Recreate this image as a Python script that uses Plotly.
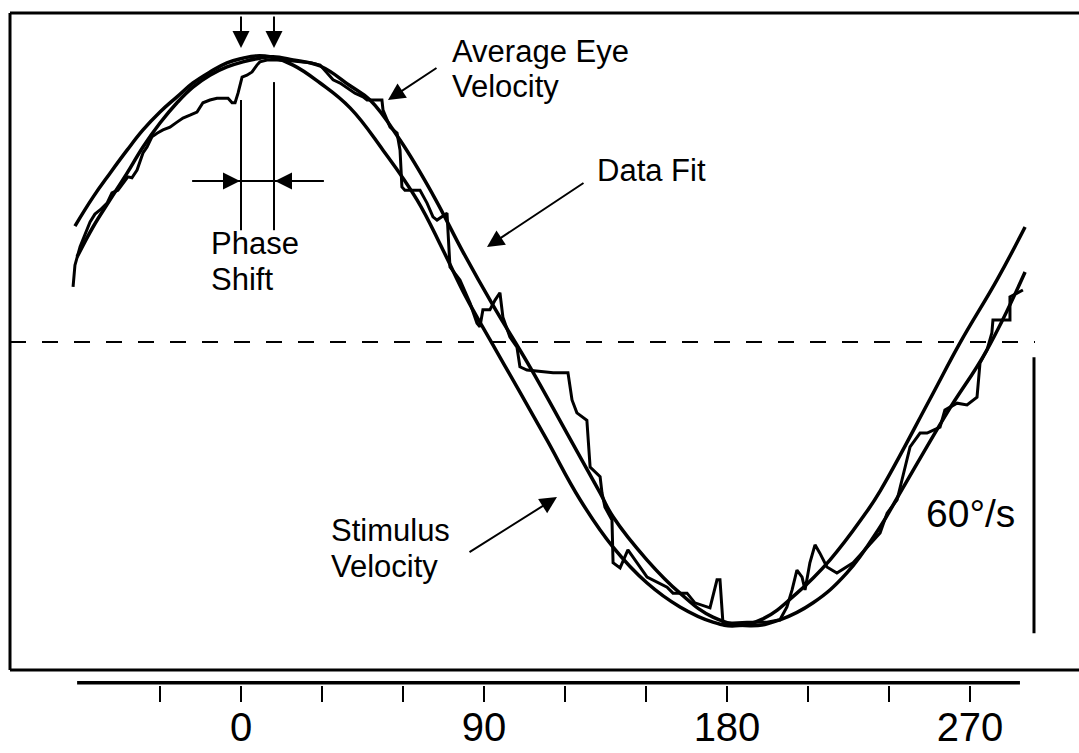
import plotly.graph_objects as go

# ---- data (phase in degrees, velocity in deg/s) ----
STIM_PHASE = [-61.5, -54.8, -48.5, -42.2, -36.3, -30.0, -23.7, -17.8, -11.5, -5.2, 0.7, 5.6, 10.7,
              19.3, 29.3, 40.4, 52.6, 65.2, 74.8, 83.3, 92.2, 103.3, 113.3, 125.6, 137.8, 150.4,
              162.6, 174.8, 183.0, 193.3, 205.9, 218.1, 230.4, 236.7, 255.2, 266.3, 280.0, 290.4]
STIM_VEL = [25.2, 31.5, 36.7, 41.7, 46.1, 50.0, 53.3, 56.3, 58.7, 60.7, 61.7, 62.2, 62.0,
            60.2, 56.3, 50.9, 41.7, 30.9, 20.0, 9.8, 0.5, -10.9, -21.3, -34.3, -44.6, -52.4,
            -57.6, -60.9, -61.7, -60.2, -54.6, -47.4, -38.0, -32.4, -12.4, -0.2, 13.5, 25.0]

FIT_PHASE = [-60.7, -54.8, -48.5, -42.2, -36.3, -30.0, -23.7, -17.8, -11.5, -5.2, 0.7, 7.0, 11.9,
             19.3, 29.3, 40.4, 47.8, 58.9, 71.1, 82.2, 93.3, 107.0, 120.7, 133.0, 137.8, 150.4,
             162.6, 174.8, 188.5, 199.6, 211.9, 224.4, 236.7, 244.1, 261.5, 276.3, 290.4]
FIT_VEL = [18.5, 25.0, 30.9, 36.7, 42.4, 47.6, 52.0, 55.4, 58.0, 59.8, 60.9, 61.7, 62.0,
           61.3, 60.0, 55.7, 52.6, 43.9, 32.0, 19.6, 8.0, -5.4, -19.8, -32.8, -38.0, -47.4,
           -54.6, -59.8, -61.7, -60.4, -56.7, -50.2, -40.2, -32.8, -15.4, -1.7, 15.2]

EYE_PHASE = [-62.2, -61.5, -59.6, -57.4, -55.9, -54.1, -52.2, -49.6, -47.8, -45.6, -43.7, -41.9,
             -40.4, -38.5, -36.3, -34.8, -33.0, -31.1, -28.9, -26.3, -23.7, -21.5, -18.9, -16.3,
             -14.1, -11.5, -8.9, -4.8, -3.3, -2.2, -1.1, 0.4, 2.2, 4.1, 5.9, 7.0, 9.6, 13.3,
             19.3, 25.6, 29.3, 34.1, 36.7, 39.3, 42.2, 45.2, 46.7, 52.2, 52.6, 55.2, 57.8, 58.9,
             59.6, 60.7, 66.3, 68.9, 71.1, 72.6, 76.3, 76.7, 77.4, 81.1, 84.8, 87.4, 88.5, 89.6,
             92.2, 94.1, 95.9, 97.0, 99.6, 102.2, 103.3, 105.9, 115.6, 121.1, 122.6, 124.4,
             128.1, 129.3, 133.0, 133.7, 134.8, 137.4, 137.8, 140.4, 143.3, 146.7, 150.4, 157.8,
             160.0, 165.2, 168.1, 173.7, 176.3, 177.4, 178.5, 182.2, 187.4, 194.8, 199.6, 202.2,
             204.1, 205.9, 207.8, 208.9, 210.7, 212.6, 214.4, 217.0, 220.7, 226.7, 230.0, 236.7,
             239.3, 243.0, 244.8, 247.8, 251.5, 254.1, 258.9, 260.7, 265.2, 268.9, 272.6, 273.7,
             276.3, 278.1, 278.5, 284.8, 284.8, 289.6]
EYE_VEL = [12.0, 16.7, 20.7, 23.9, 26.1, 27.8, 28.7, 30.2, 32.4, 33.0, 34.6, 35.9,
           35.7, 37.4, 41.1, 42.4, 44.6, 45.4, 46.1, 46.7, 47.8, 48.7, 49.3, 50.0,
           52.0, 52.6, 53.0, 53.0, 52.0, 52.0, 54.1, 57.6, 58.0, 58.7, 60.2, 60.9, 61.3, 61.3,
           61.1, 60.7, 60.2, 57.0, 56.3, 55.2, 54.1, 53.3, 52.6, 52.6, 50.4, 46.7, 45.4, 41.7,
           33.7, 33.0, 33.0, 30.2, 27.2, 26.5, 28.0, 23.7, 16.3, 13.5, 8.5, 4.1, 3.3, 7.0,
           7.0, 9.1, 10.7, 5.4, 1.1, -1.1, -5.4, -6.1, -6.7, -6.7, -12.6, -15.4,
           -17.0, -27.2, -29.3, -32.8, -35.9, -38.7, -48.0, -49.1, -45.2, -48.0, -51.1, -53.3,
           -54.6, -54.6, -56.7, -57.8, -51.7, -51.7, -61.1, -61.1, -60.9, -60.9, -60.4, -57.6,
           -53.9, -49.6, -51.1, -53.9, -48.0, -44.1, -45.9, -48.9, -50.2, -48.0, -45.9, -41.5,
           -37.2, -34.3, -30.0, -22.8, -19.8, -19.8, -18.5, -14.8, -13.3, -13.7, -12.0, -4.6,
           -1.7, 2.0, 4.8, 4.8, 9.8, 11.3]

TICK_VALS = [-30, 0, 30, 60, 90, 120, 150, 180, 210, 240, 270]
TICK_TEXT = ["", "0", "", "", "90", "", "", "180", "", "", "270"]

SCALE_BAR = [-3.3, -63.3]   # 60 deg/s scale bar
SCALE_BAR_X = 293.7
AXIS_LINE_X = [-60.7, 288.5]

FONT = "Liberation Sans, Arial, Helvetica, sans-serif"
W, H = 1079, 753
AXIS_Y = 684.5   # pixel row of the bottom phase axis

fig = go.Figure()
fig.add_trace(go.Scatter(x=STIM_PHASE, y=STIM_VEL, mode="lines",
                         line=dict(color="black", width=3.5, shape="spline", smoothing=1.2),
                         name="Stimulus Velocity", showlegend=False, hoverinfo="skip"))
fig.add_trace(go.Scatter(x=FIT_PHASE, y=FIT_VEL, mode="lines",
                         line=dict(color="black", width=3.5, shape="spline", smoothing=1.2),
                         name="Data Fit", showlegend=False, hoverinfo="skip"))
fig.add_trace(go.Scatter(x=EYE_PHASE, y=EYE_VEL, mode="lines",
                         line=dict(color="black", width=3),
                         name="Average Eye Velocity", showlegend=False, hoverinfo="skip"))
# separate phase axis line (bottom axis); half of it is clipped at the subplot edge
fig.add_trace(go.Scatter(x=AXIS_LINE_X, y=[0, 0], xaxis="x2", yaxis="y2", mode="lines",
                         line=dict(color="black", width=7),
                         showlegend=False, hoverinfo="skip"))

XR = [(10 - 241) / 2.7, (1079 - 241) / 2.7]
YR = [(342 - 670) / 4.6, (342 - 13) / 4.6]
xdom = [10 / W, 1.0]

fig.update_layout(
    width=W, height=H, margin=dict(l=0, r=0, t=0, b=0),
    paper_bgcolor="white", plot_bgcolor="white",
    font=dict(family=FONT, color="black"),
    xaxis=dict(domain=xdom, range=XR, visible=False, fixedrange=True),
    yaxis=dict(domain=[1 - 670 / H, 1 - 13 / H], range=YR, visible=False),
    xaxis2=dict(domain=xdom, range=XR, anchor="y2", showline=False, showgrid=False,
                zeroline=False, ticks="outside", ticklen=16, tickwidth=2, tickcolor="black",
                tickvals=TICK_VALS, ticktext=TICK_TEXT, ticklabelstandoff=-9,
                tickfont=dict(size=40, family=FONT, color="black")),
    yaxis2=dict(domain=[1 - AXIS_Y / H, 1 - (AXIS_Y - 6) / H], range=[0, 1], visible=False),
    showlegend=False,
)

shapes = []
# box (open on the right)
for (x0, y0, x1, y1) in [(10, 13, 1079, 13), (10, 670, 1079, 670), (10, 13, 10, 670)]:
    shapes.append(dict(type="line", xref="paper", yref="paper",
                       x0=x0 / W, x1=x1 / W, y0=1 - y0 / H, y1=1 - y1 / H,
                       line=dict(color="black", width=3)))
# zero (dashed) line
shapes.append(dict(type="line", xref="x", yref="y", x0=XR[0], x1=(1035 - 241) / 2.7, y0=0, y1=0,
                   line=dict(color="black", width=2, dash="16px,16px")))
# scale bar
shapes.append(dict(type="line", xref="x", yref="y", x0=SCALE_BAR_X, x1=SCALE_BAR_X,
                   y0=SCALE_BAR[0], y1=SCALE_BAR[1], line=dict(color="black", width=3)))
# phase shift marker lines
shapes.append(dict(type="line", xref="x", yref="y", x0=0, x1=0, y0=52.6, y1=24.3,
                   line=dict(color="black", width=2)))
shapes.append(dict(type="line", xref="x", yref="y", x0=12.22, x1=12.22, y0=56.5, y1=24.3,
                   line=dict(color="black", width=2)))
shapes.append(dict(type="line", xref="x", yref="y", x0=-18.1, x1=30.7, y0=35.0, y1=35.0,
                   line=dict(color="black", width=2)))
fig.update_layout(shapes=shapes)

ann = []
def arrow(x, y, ax, ay):
    ann.append(dict(x=x, y=y, xref="x", yref="y", ax=ax, ay=ay, text="", showarrow=True,
                    arrowhead=2, arrowsize=1.7, arrowwidth=2, arrowcolor="black", standoff=0))

arrow(54.44, 52.61, 50, -33)      # average eye velocity
arrow(91.11, 20.65, 98, -65)      # data fit
arrow(117.04, -33.70, -89, 56)    # stimulus velocity
arrow(0.0, 63.91, 0, -33)         # phase marker 1
arrow(12.22, 63.91, 0, -33)       # phase marker 2
arrow(-0.37, 35.0, -48, 0)        # phase shift left
arrow(12.6, 35.0, 49, 0)          # phase shift right

def label(txt, px, baseline, size=31):
    ann.append(dict(x=(px - 2) / W, y=1 - (baseline + 0.212 * size) / H,
                    xref="paper", yref="paper", text=txt,
                    showarrow=False, xanchor="left", yanchor="bottom", borderpad=0,
                    font=dict(size=size, family=FONT, color="black")))

label("Average Eye", 453, 63)
label("Velocity", 453, 98.5)
label("Data Fit", 598, 182)
label("Phase", 212, 255.5)
label("Shift", 212, 291)
label("Stimulus", 332, 542.5)
label("Velocity", 332, 578)
label("60°/s", 927, 528, size=39)

fig.update_layout(annotations=ann)
fig.write_html("out.html")
